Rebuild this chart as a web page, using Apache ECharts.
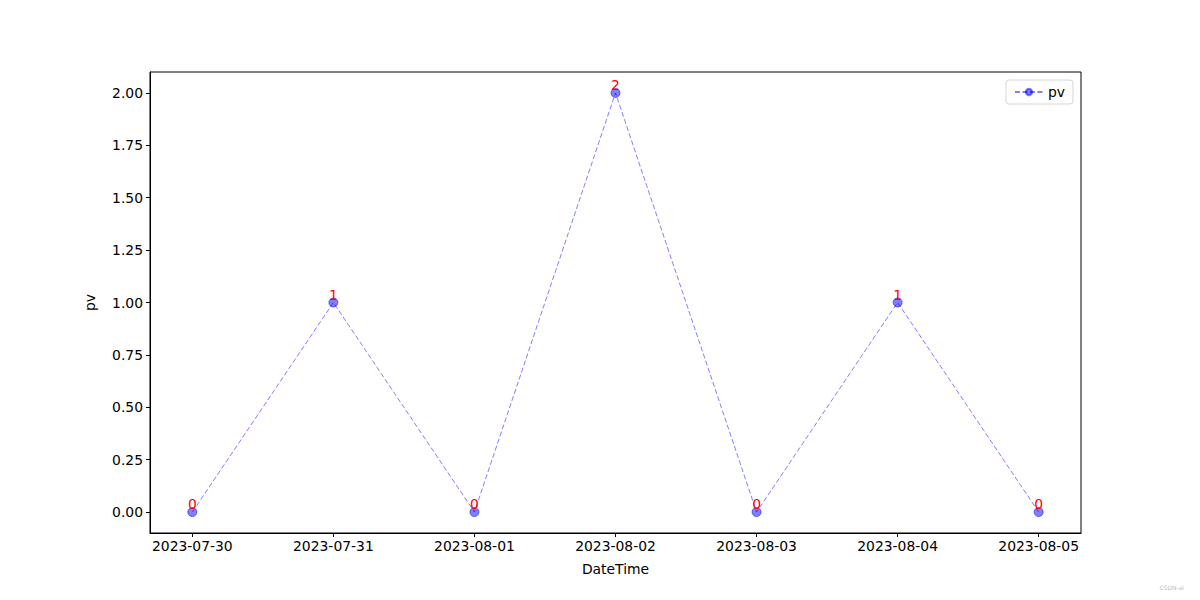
<!DOCTYPE html>
<html>
<head>
<meta charset="utf-8">
<script src="https://cdn.jsdelivr.net/npm/echarts@6/dist/echarts.min.js"></script>
<style>html,body{margin:0;padding:0;background:#fff}#c{width:1200px;height:600px}</style>
</head>
<body>
<div id="c"></div>
<script>
const dates = ["2023-07-30","2023-07-31","2023-08-01","2023-08-02","2023-08-03","2023-08-04","2023-08-05"];
const pv = [0, 1, 0, 2, 0, 1, 0];
const yTicks = [0, 0.25, 0.5, 0.75, 1, 1.25, 1.5, 1.75, 2];
const xTicks = dates.map((d, i) => i);

const font = "DejaVu Sans";
const chart = echarts.init(document.getElementById("c"), null, { renderer: "svg" });
chart.setOption({
  backgroundColor: "#fff",
  animation: false,
  textStyle: { fontFamily: font },
  grid: { left: 150, right: 119, top: 72, bottom: 67, show: true, borderColor: "#000", borderWidth: 1, backgroundColor: "transparent" },
  legend: {
    right: 127, top: 80, padding: [5, 8, 5, 8],
    borderColor: "#d6d6d6", borderWidth: 1, borderRadius: 3,
    itemWidth: 28, itemHeight: 8, itemGap: 8,
    textStyle: { fontSize: 13.9, color: "#000", fontFamily: font },
    data: ["pv"]
  },
  xAxis: {
    type: "value", min: -0.3, max: 6.3,
    name: "DateTime", nameLocation: "middle", nameGap: 29,
    nameTextStyle: { fontSize: 13.9, color: "#000", fontFamily: font },
    axisLine: { show: true, onZero: false, lineStyle: { color: "#000" } },
    axisTick: { show: true, length: 4, lineStyle: { color: "#000" }, customValues: xTicks },
    axisLabel: { fontSize: 13.9, color: "#000", margin: 6, customValues: xTicks, formatter: v => dates[Math.round(v)] },
    splitLine: { show: false }
  },
  yAxis: {
    type: "value", min: -0.1, max: 2.1,
    name: "pv", nameLocation: "middle", nameGap: 53,
    nameTextStyle: { fontSize: 13.9, color: "#000", fontFamily: font },
    axisLine: { show: true, onZero: false, lineStyle: { color: "#000" } },
    axisTick: { show: true, length: 4, lineStyle: { color: "#000" }, customValues: yTicks },
    axisLabel: { fontSize: 13.9, color: "#000", margin: 7, customValues: yTicks, formatter: v => v.toFixed(2) },
    splitLine: { show: false }
  },
  series: [{
    name: "pv", type: "line",
    data: pv.map((v, i) => [i, v]),
    symbol: "circle", symbolSize: 9,
    lineStyle: { color: "rgba(0,0,255,0.5)", width: 1, type: [5, 2.5] },
    itemStyle: { color: "rgba(0,0,255,0.5)", borderColor: "rgba(0,0,255,0.5)", borderWidth: 1 },
    label: { show: true, position: "top", distance: -4, color: "#ff0000", fontSize: 13.9, fontFamily: font, formatter: p => String(p.value[1]) },
    emphasis: { disabled: true }
  }],
  graphic: [{ type: "text", right: 16, bottom: 10, style: { text: "CSDN-ai", fontSize: 6, fill: "#bbb", fontFamily: font } }]
});
</script>
</body>
</html>
